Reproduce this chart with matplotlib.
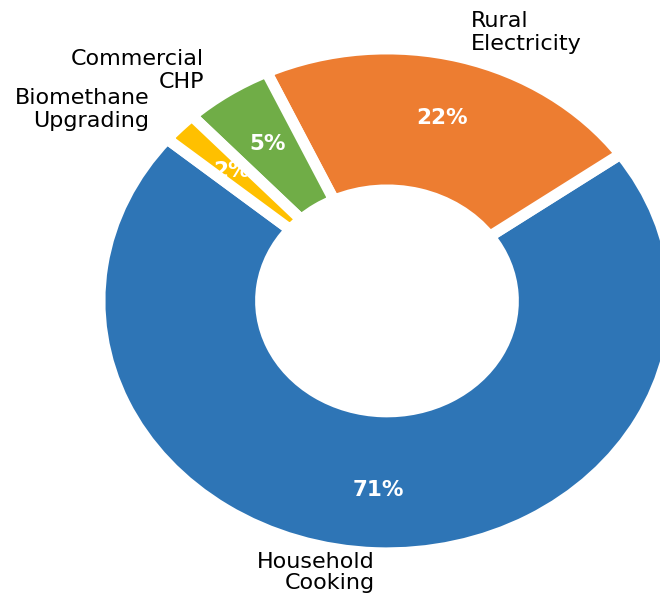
import matplotlib
matplotlib.use("Agg")
import matplotlib.pyplot as plt

# Share of biogas end uses
categories = ["Household\nCooking", "Rural\nElectricity", "Commercial\nCHP", "Biomethane\nUpgrading"]
shares = [71, 22, 5, 2]
colors = ["#2E75B6", "#ED7D31", "#70AD47", "#FFC000"]

fig = plt.figure(figsize=(6.6, 5.94), dpi=100)
ax = fig.add_axes([0, 0, 1, 1])

wedges, texts, autotexts = ax.pie(
    shares,
    labels=categories,
    colors=colors,
    startangle=140,
    autopct="%1.0f%%",
    pctdistance=0.75,
    labeldistance=1.1,
    wedgeprops=dict(width=0.56, edgecolor="white", linewidth=8),
    textprops=dict(fontsize=16, color="black"),
)
for t in autotexts:
    t.set_color("white")
    t.set_fontweight("bold")
    t.set_fontsize(15.5)

# spread the category labels a little further out horizontally
for t in texts:
    x, y = t.get_position()
    t.set_position((x * 1.04, y))

# keep the bottom label inside the canvas
x, y = texts[0].get_position()
texts[0].set_position((x, y + 0.022))
texts[0].set_linespacing(1.05)

ax.set_aspect("auto")
ax.set_xlim(-1.348, 0.951)
ax.set_ylim(-1.163, 1.194)
ax.axis("off")

fig.savefig("out.png", dpi=100)
